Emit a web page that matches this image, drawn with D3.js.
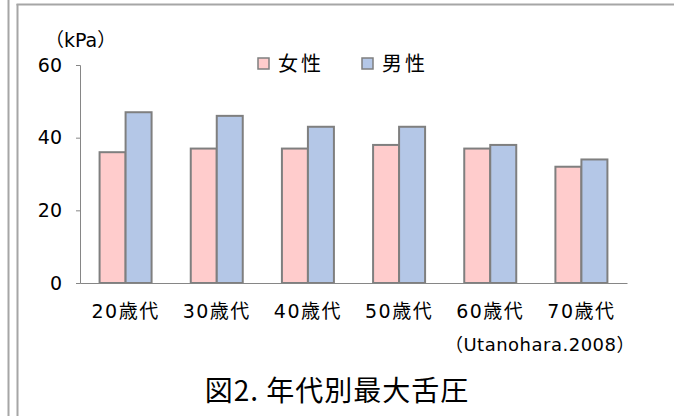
<!DOCTYPE html>
<html>
<head>
<meta charset="utf-8">
<script src="https://cdn.jsdelivr.net/npm/d3@7"></script>
<style>
  html, body { margin: 0; padding: 0; background: #fff; }
  #chart { width: 674px; height: 416px; }
</style>
</head>
<body>
<div id="chart"></div>
<script>
// data
var categories = ['20歳代', '30歳代', '40歳代', '50歳代', '60歳代', '70歳代'];
var seriesNames = ['女性', '男性'];
var female = [36, 37, 37, 38, 37, 32];
var male = [47, 46, 43, 43, 38, 34];
var yTicks = [0, 20, 40, 60];

var colors = { '女性': '#ffcccc', '男性': '#b4c7e7' };
var fontFamily = '"DejaVu Sans", "Noto Sans CJK JP", sans-serif';

var width = 674, height = 416;

var svg = d3.select('#chart').append('svg')
    .attr('width', width)
    .attr('height', height);

// page frame lines
svg.append('line').attr('x1', 8.5).attr('x2', 8.5).attr('y1', 0).attr('y2', height)
    .attr('stroke', '#a6a6a6').attr('stroke-width', 2);
svg.append('line').attr('x1', 17.5).attr('x2', 17.5).attr('y1', 4).attr('y2', height)
    .attr('stroke', '#a6a6a6').attr('stroke-width', 2);
svg.append('line').attr('x1', 16.5).attr('x2', width).attr('y1', 4.5).attr('y2', 4.5)
    .attr('stroke', '#a6a6a6').attr('stroke-width', 2);

var plot = { left: 80, right: 627, top: 65, bottom: 283 };

var x = d3.scaleBand()
    .domain(categories)
    .range([plot.left, plot.right]);

var barW = 26;
var xSub = d3.scaleBand()
    .domain(seriesNames)
    .range([0, barW * 2]);

var y = d3.scaleLinear()
    .domain([0, 60])
    .range([plot.bottom, plot.top]);

// y axis
var yAxis = svg.append('g')
    .attr('transform', 'translate(' + plot.left + ',0)')
    .call(d3.axisLeft(y).tickValues(yTicks).tickSize(4).tickPadding(14));
yAxis.select('.domain').attr('stroke', '#868686');
yAxis.selectAll('.tick line').attr('stroke', '#868686');
yAxis.selectAll('.tick text')
    .style('font-size', '19px')
    .style('font-family', fontFamily)
    .attr('fill', '#000');

// unit label
svg.append('text')
    .attr('x', 45)
    .attr('y', 47)
    .text('（kPa）')
    .style('font-size', '19px')
    .style('font-family', fontFamily);

// bars
var rows = categories.map(function (c, i) {
    return { cat: c, values: [{ key: '女性', v: female[i] }, { key: '男性', v: male[i] }] };
});

var groups = svg.selectAll('g.group')
    .data(rows)
    .enter().append('g')
    .attr('class', 'group')
    .attr('transform', function (d) {
        return 'translate(' + (x(d.cat) + (x.bandwidth() - barW * 2) / 2) + ',0)';
    });

groups.selectAll('rect')
    .data(function (d) { return d.values; })
    .enter().append('rect')
    .attr('x', function (d) { return xSub(d.key); })
    .attr('y', function (d) { return y(d.v); })
    .attr('width', xSub.bandwidth())
    .attr('height', function (d) { return y(0) - y(d.v); })
    .attr('fill', function (d) { return colors[d.key]; })
    .attr('stroke', '#7f7f7f')
    .attr('stroke-width', 2);

// x axis
var xAxis = svg.append('g')
    .attr('transform', 'translate(0,' + plot.bottom + ')')
    .call(d3.axisBottom(x).tickSize(0).tickPadding(22));
xAxis.select('.domain').attr('stroke', '#868686');
xAxis.selectAll('.tick text')
    .style('font-size', '19px')
    .style('font-family', fontFamily)
    .style('letter-spacing', '1.5px')
    .attr('fill', '#000');

// legend
var legendX = [257, 361];
seriesNames.forEach(function (s, i) {
    svg.append('rect')
        .attr('x', legendX[i] + 1)
        .attr('y', 58)
        .attr('width', 11)
        .attr('height', 11)
        .attr('fill', colors[s])
        .attr('stroke', '#7f7f7f')
        .attr('stroke-width', 1.5);
    svg.append('text')
        .attr('x', legendX[i] + 21)
        .attr('y', 71)
        .text(s)
        .style('font-size', '20px')
        .style('font-family', fontFamily)
        .style('letter-spacing', '3px');
});

// source
svg.append('text')
    .attr('x', 635)
    .attr('y', 351)
    .attr('text-anchor', 'end')
    .text('（Utanohara.2008）')
    .style('font-size', '18px')
    .style('font-family', fontFamily)
    .style('letter-spacing', '0.5px');

// figure title
svg.append('text')
    .attr('x', 337)
    .attr('y', 401)
    .attr('text-anchor', 'middle')
    .text('図2. 年代別最大舌圧')
    .style('font-size', '28px')
    .style('font-family', '"Noto Sans CJK JP", sans-serif')
    .style('letter-spacing', '1px');
</script>
</body>
</html>
